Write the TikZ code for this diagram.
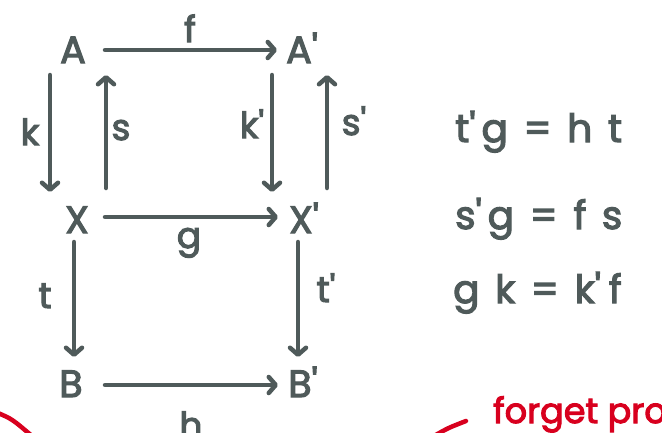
\documentclass[tikz,border=0pt]{standalone}
\usepackage{fontspec}
\usetikzlibrary{arrows.meta,calc}
\newfontfamily\hand[FakeBold=3]{Poppins}
\newfontfamily\handeq[FakeBold=3,LetterSpace=40]{Poppins}
\definecolor{ink}{HTML}{4F5A5A}
\definecolor{pen}{HTML}{D8001E}
\newcommand{\pr}{\textquotesingle}
\begin{document}
\begin{tikzpicture}[x=1pt,y=-1pt,
  obj/.style={font=\hand\fontsize{38}{38}\selectfont, text=ink, inner sep=0pt, anchor=base},
  lab/.style={font=\hand\fontsize{36}{36}\selectfont, text=ink, inner sep=0pt, anchor=base},
  eqn/.style={font=\handeq\fontsize{39}{39}\selectfont, text=ink, inner sep=0pt, anchor=base west},
  note/.style={font=\hand\fontsize{35}{35}\selectfont, text=pen, inner sep=0pt, anchor=base west},
  mor/.style={draw=ink, line width=4.5pt, line cap=round, -{Straight Barb[round,length=7pt,width=16pt]}},
  redstroke/.style={draw=pen, line width=4.5pt, line cap=round}]
\useasboundingbox (0,0) rectangle (662,432);
% objects
\node[obj] (A)  at (73,63)  {A};
\node[obj] (Ap) at (302,63) {A\pr};
\node[obj] (X)  at (77,233) {X};
\node[obj] (Xp) at (304,233) {X\pr};
\node[obj] (B)  at (71,397) {B};
\node[obj] (Bp) at (303,397) {B\pr};
% morphisms
\draw[mor] ($(A.base)+(32,-13)$) -- ($(Ap.base)+(-25,-13)$);
\draw[mor] ($(A.base)+(-23,12)$) -- ($(X.base)+(-27,-41)$);
\draw[mor] ($(X.base)+(29,-45)$) -- ($(A.base)+(33,12)$);
\draw[mor] ($(Ap.base)+(-30,12)$) -- ($(Xp.base)+(-32,-41)$);
\draw[mor] ($(Xp.base)+(23,-45)$) -- ($(Ap.base)+(25,12)$);
\draw[mor] ($(X.base)+(28,-16)$) -- ($(Xp.base)+(-26,-16)$);
\draw[mor] ($(X.base)+(-3,9)$) -- ($(B.base)+(3,-40)$);
\draw[mor] ($(Xp.base)+(-6,9)$) -- ($(Bp.base)+(-5,-40)$);
\draw[mor] ($(B.base)+(34,-12)$) -- ($(Bp.base)+(-25,-12)$);
% labels
\node[lab] (lf)  at (190,42)  {f};
\node[lab] (lk)  at (30,145)  {k};
\node[lab] (ls)  at (121,140) {s};
\node[lab] (lkp) at (252,138) {k\pr};
\node[lab] (lsp) at (354,135) {s\pr};
\node[lab] (lg)  at (189,248) {g};
\node[lab] (lt)  at (45,308)  {t};
\node[lab] (ltp) at (326,302) {t\pr};
\node[lab] (lh)  at (191,438) {h};
% equations
\node[eqn] (e1) at (455,142) {t\pr\kern6pt g=ht};
\node[eqn] (e2) at (455,229) {s\pr\kern6pt g=fs};
\node[eqn] (e3) at (453,303) {gk=k\pr\kern8pt f};
% red annotation
\node[note] (n) at (493,423) {forget prop};
\draw[redstroke] (-2,413) .. controls (12,419) .. (32,436);
\draw[redstroke] (434,436) .. controls (448,428) .. (466,421);
\end{tikzpicture}
\end{document}
